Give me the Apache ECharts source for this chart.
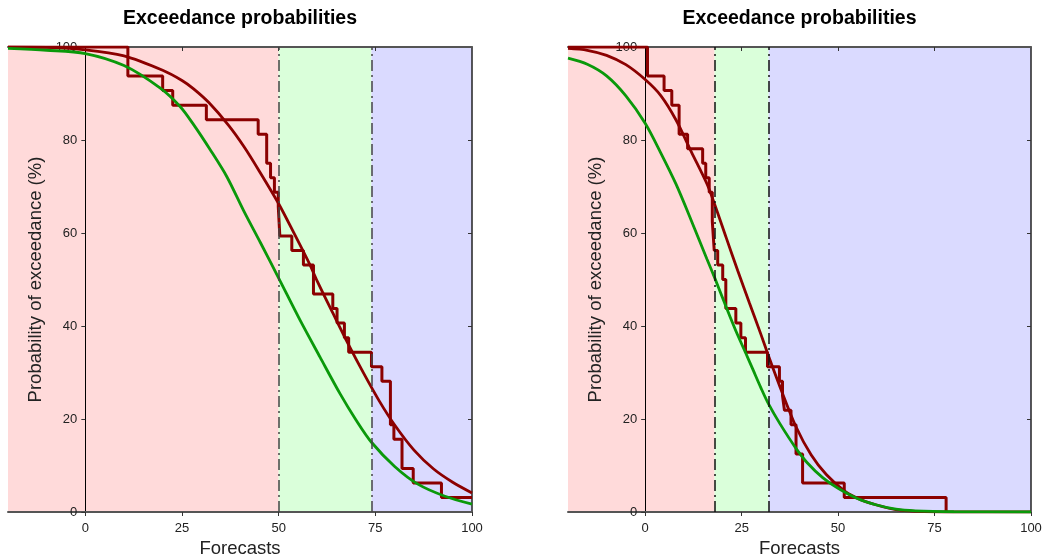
<!DOCTYPE html>
<html>
<head>
<meta charset="utf-8">
<script src="https://cdn.jsdelivr.net/npm/echarts@6/dist/echarts.min.js"></script>
<style>
html,body{margin:0;padding:0;background:#fff;}
#chart{width:1048px;height:560px;}
</style>
</head>
<body>
<div id="chart"></div>
<script>
// ---- Data ----
const titleText = 'Exceedance probabilities';
const xName = 'Forecasts';
const yName = 'Probability of exceedance (%)';
const xTicks = [0, 25, 50, 75, 100];
const topTicks = [25, 50, 75];
const rightTicks = [20, 40, 60, 80];
const xRange = [-20, 100];
const yRange = [0, 100];

// region bounds (tercile thresholds)
const leftBounds = [-20, 50, 74, 100];
const rightBounds = [-20, 18, 32, 100];
const regionColors = ['#ffdada', '#daffda', '#dadaff'];

// Left panel
const leftStep = [[-20,100],[11.0,93.75],[20.0,90.625],[22.6,87.5],[31.3,84.375],[44.7,81.25],[46.9,75],[47.9,71.875],[48.9,68.75],[49.9,65.625],[50.3,59.375],[53.4,56.25],[56.4,53.125],[59.0,46.875],[64.0,43.75],[65.1,40.625],[67.0,37.5],[68.1,34.375],[74.0,31.25],[76.7,28.125],[78.9,18.75],[79.8,15.625],[81.9,9.375],[84.8,6.25],[92.1,3.125],[100,3.125]];
const leftFit = [[-20,100],[-10,99.9],[0,99.4],[10,98.1],[20,95.0],[25,92.8],[28,91.0],[32,88.0],[37,83.2],[41,78.6],[45,73.3],[50,66.3],[54,59.9],[58,53.3],[60,49.6],[64,42.8],[68,36.1],[72,29.8],[76,23.9],[80,18.7],[85,13.3],[90,9.3],[95,6.4],[100,4.1]];
const leftClim = [[-20,99.7],[-10,99.3],[0,98.6],[10,96.0],[19.3,91.2],[24.5,87.2],[28,83.3],[32.3,77.9],[36.6,72.1],[41,64.7],[45.3,57.9],[50,50.3],[55.5,41.3],[60.7,33.3],[65.9,25.4],[70,19.8],[74,15.0],[80,9.8],[86,6.0],[93,3.4],[100,1.7]];

// Right panel
const rightStep = [[-20,100],[0.6,93.75],[4.9,90.625],[6.9,87.5],[8.8,81.25],[11.0,78.125],[14.9,75],[15.7,71.875],[16.6,68.75],[17.4,62.5],[17.9,56.25],[18.8,53.125],[20.1,50],[20.9,43.75],[23.5,40.625],[24.8,37.5],[26.0,34.375],[31.7,31.25],[34.8,28.125],[35.6,25],[36.1,21.875],[37.8,18.75],[39.1,12.5],[40.8,6.25],[51.6,3.125],[78.0,0]];
const rightFit = [[-20,99.7],[-15,99.3],[-10,98.2],[-5,96.2],[0,93.0],[4,89.6],[8,84.3],[12,77.4],[16,70.6],[18,66.2],[21,59.0],[24,51.9],[27,45.0],[30,38.2],[32,33.5],[35,26.8],[39,18.5],[43,12.3],[47,8.0],[52,4.3],[56,2.6],[60,1.5],[65,0.5],[70,0.15],[80,0],[100,0]];
const rightClim = [[-20,97.6],[-15,96.3],[-10,93.8],[-5,89.5],[0,83.6],[4,77.3],[8,70.5],[12,62.6],[16,54.4],[18,50.4],[20,46.2],[22,42.0],[24,38.0],[26,34.3],[28,30.5],[30,26.7],[32,23.2],[35,18.9],[39,13.8],[42,10.6],[46,7.4],[50,5.1],[55,2.9],[60,1.5],[65,0.6],[70,0.25],[80,0.05],[100,0]];

// ---- Build ----
const FONT = 'Liberation Sans, Arial, sans-serif';
const RED = '#8b0000';
const GREEN = '#0a990a';
const W = 1048;

const panels = [
  { bounds: leftBounds, step: leftStep, fit: leftFit, clim: leftClim, grid: {left: 8, right: 576, top: 47, bottom: 48}, dash: '#444' },
  { bounds: rightBounds, step: rightStep, fit: rightFit, clim: rightClim, grid: {left: 568, right: 17, top: 47, bottom: 48}, dash: '#111' }
];

const option = {
  animation: false,
  backgroundColor: '#ffffff',
  textStyle: { fontFamily: FONT },
  title: [], grid: [], xAxis: [], yAxis: [], series: []
};

panels.forEach((p, i) => {
  const gw = W - p.grid.left - p.grid.right;
  const center = p.grid.left + gw / 2;
  // y axis sits where x = 0 (layout offset inside the grid)
  const zeroOffset = -gw * (0 - xRange[0]) / (xRange[1] - xRange[0]);
  option.title.push({
    text: titleText, left: center, top: 9, textAlign: 'center', padding: 0,
    textStyle: { fontFamily: FONT, fontSize: 19.5, fontWeight: 'bold', color: '#000' }
  });
  option.grid.push(Object.assign({ containLabel: false, outerBoundsMode: 'none' }, p.grid));
  // bottom x axis
  option.xAxis.push({
    type: 'value', gridIndex: i, min: xRange[0], max: xRange[1], position: 'bottom', z: 2,
    name: xName, nameLocation: 'middle', nameGap: 27,
    nameTextStyle: { fontFamily: FONT, fontSize: 18.5, color: '#222' },
    axisLine: { onZero: false, lineStyle: { color: '#555', width: 2 } },
    axisTick: { show: true, customValues: xTicks, length: 4, lineStyle: { color: '#333' } },
    axisLabel: { customValues: xTicks, fontFamily: FONT, fontSize: 13, color: '#222', margin: 10 },
    splitLine: { show: false }
  });
  // top x axis (frame)
  option.xAxis.push({
    type: 'value', gridIndex: i, min: xRange[0], max: xRange[1], position: 'top', z: 2,
    axisLine: { onZero: false, lineStyle: { color: '#555', width: 2 } },
    axisTick: { show: true, inside: true, customValues: topTicks, length: 4, lineStyle: { color: '#333' } },
    axisLabel: { show: false },
    splitLine: { show: false }
  });
  // left y axis at x = 0
  option.yAxis.push({
    type: 'value', gridIndex: i, min: yRange[0], max: yRange[1], interval: 20, position: 'left', z: 2,
    offset: zeroOffset,
    name: yName, nameLocation: 'middle', nameGap: 40,
    nameTextStyle: { fontFamily: FONT, fontSize: 18.5, color: '#222' },
    axisLine: { show: true, onZero: false, lineStyle: { color: '#000', width: 1 } },
    axisTick: { show: true, length: 4, lineStyle: { color: '#333' } },
    axisLabel: { fontFamily: FONT, fontSize: 13, color: '#222', margin: 8 },
    splitLine: { show: false }
  });
  // right y axis (frame)
  option.yAxis.push({
    type: 'value', gridIndex: i, min: yRange[0], max: yRange[1], interval: 20, position: 'right', z: 2,
    axisLine: { show: true, onZero: false, lineStyle: { color: '#222', width: 1.5 } },
    axisTick: { show: true, inside: true, customValues: rightTicks, length: 4, lineStyle: { color: '#333' } },
    axisLabel: { show: false },
    splitLine: { show: false }
  });

  const xi = 2 * i, yi = 2 * i;
  const areas = [];
  for (let k = 0; k < 3; k++) {
    areas.push([{ xAxis: p.bounds[k], itemStyle: { color: regionColors[k] } }, { xAxis: p.bounds[k + 1] }]);
  }
  option.series.push({
    type: 'line', xAxisIndex: xi, yAxisIndex: yi, z: 1,
    data: [[p.bounds[0], 0]], showSymbol: false, lineStyle: { width: 0, opacity: 0 },
    markArea: { silent: true, data: areas },
    markLine: {
      silent: true, symbol: ['none', 'none'], label: { show: false },
      lineStyle: { color: p.dash, width: 1.5, type: [11, 4, 2, 4] },
      data: [{ xAxis: p.bounds[1] }, { xAxis: p.bounds[2] }]
    }
  });
  option.series.push({
    type: 'line', xAxisIndex: xi, yAxisIndex: yi, z: 3, step: 'end',
    data: p.step, showSymbol: false, lineStyle: { color: RED, width: 3 }, itemStyle: { color: RED }
  });
  option.series.push({
    type: 'line', xAxisIndex: xi, yAxisIndex: yi, z: 3, smooth: 0.3,
    data: p.fit, showSymbol: false, lineStyle: { color: RED, width: 2.8 }, itemStyle: { color: RED }
  });
  option.series.push({
    type: 'line', xAxisIndex: xi, yAxisIndex: yi, z: 4, smooth: 0.3,
    data: p.clim, showSymbol: false, lineStyle: { color: GREEN, width: 2.8 }, itemStyle: { color: GREEN }
  });
});

const chart = echarts.init(document.getElementById('chart'), null, { renderer: 'canvas' });
chart.setOption(option);
</script>
</body>
</html>
